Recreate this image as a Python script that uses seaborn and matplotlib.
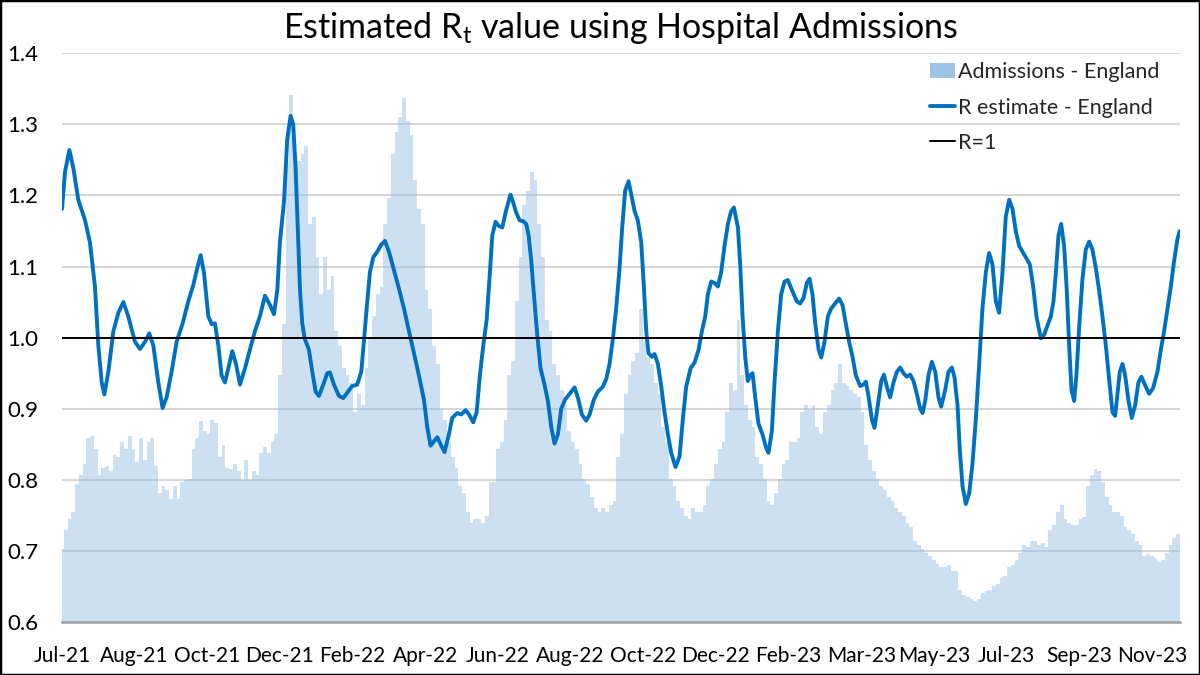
import numpy as np
import pandas as pd
import matplotlib
matplotlib.use("Agg")
import matplotlib.pyplot as plt
from matplotlib.patches import Patch, Rectangle
from matplotlib.lines import Line2D
import seaborn as sns

# ---------------- data ----------------
start_date = "2021-07-01"

# R estimate (days since 1 Jul 2021, value)
r_days = [0, 2.4, 5.9, 9.1, 13.0, 18.4, 22.3, 26.3, 29.0, 31.7, 33.8, 37.0, 41.0, 45.0, 49.0, 52.9,
          58.3, 62.3, 66.2, 69.7, 72.9, 76.9, 80.3, 83.5, 87.5, 91.5, 96.3, 100.8, 104.8, 108.0, 110.7,
          113.3, 116.8, 119.5, 122.1, 124.8, 127.4, 130.1, 132.8, 135.9, 138.9, 142.1, 146.1, 150.0,
          154.0, 158.0, 162.0, 166.0, 169.2, 171.9, 174.0,
          177.2, 179.8, 182.5, 184.6, 186.5, 188.4, 190.0, 191.8, 193.7, 197.1, 199.8, 202.5, 205.1,
          208.6, 211.8, 213.9, 217.1, 221.1, 224.5, 228.3, 231.7, 235.7, 238.9, 241.0, 243.2, 245.8,
          248.5, 251.7, 254.9, 257.8, 261.0, 265.0, 269.0, 273.0, 277.0, 281.0, 284.9, 288.9, 291.6,
          294.2, 296.9, 299.6, 302.8, 305.4, 308.9, 311.5, 315.5, 318.7, 322.2, 324.9, 328.3, 331.0,
          333.6, 336.3, 339.0, 341.6, 343.5, 346.1, 348.8, 351.5, 354.1, 357.6,
          358.1, 360.0, 362.6, 365.3, 368.0, 370.6, 372.5, 374.6, 376.7, 379.4, 382.0, 385.2, 387.9,
          390.6, 393.2, 395.9, 398.5, 401.7, 405.2, 409.2, 411.8, 415.0, 418.5, 421.2, 424.6, 427.8,
          431.8, 434.5, 437.1, 439.8, 442.4, 445.1, 447.2, 449.6, 452.3, 455.0, 457.1, 459.7, 462.4,
          464.5, 466.4, 468.2, 470.9, 473.0, 475.7, 478.4, 481.0, 483.7, 486.3, 489.8, 493.0, 495.6,
          498.3, 501.8, 505.0, 508.2, 510.8, 513.5, 515.6, 518.3, 520.9, 523.6, 526.2, 528.9, 531.6,
          534.2, 536.4,
          539.6, 541.4, 543.3, 545.4, 547.5, 549.4, 551.3, 553.4, 556.0, 559.2, 561.9, 564.0, 566.7,
          568.8, 571.5, 574.1, 576.8, 579.5, 582.7, 586.6, 589.3, 592.0, 594.6, 596.8, 599.1, 601.3,
          604.0, 606.1, 608.7, 611.4, 614.0, 617.2, 620.4, 623.1, 625.7, 628.4, 631.1, 633.7, 637.2,
          639.9, 641.7, 643.8, 646.5, 648.6, 651.3, 654.0, 656.1, 658.5, 661.1, 663.8, 666.5, 669.1,
          671.8, 674.4, 677.1, 679.8, 682.4, 685.1, 687.0, 689.1, 691.7, 694.4, 697.1, 699.7, 701.8,
          705.0, 707.7, 710.4, 712.5,
          714.9, 716.7, 718.9, 721.5, 724.2, 726.8, 729.5, 732.2, 734.8, 737.5, 740.1, 742.8, 745.5,
          748.1, 750.8, 753.4, 756.1, 758.8, 761.4, 764.1, 766.8, 769.4, 772.6, 775.3, 777.9, 781.4,
          784.0, 786.7, 789.4, 791.5, 793.4, 795.5, 797.6, 800.0, 802.1, 804.0, 805.9, 808.0, 809.8,
          812.0, 814.6, 817.3, 820.0, 822.6, 825.3, 827.9, 830.6, 833.3, 835.9, 838.6, 840.7, 842.6,
          844.4, 846.6, 848.7, 851.4, 854.0, 856.7, 859.3, 861.7, 864.4, 867.9, 871.0, 874.5, 877.2,
          879.8, 882.5, 885.2, 887.8, 890.5, 892.3]
r_values = [1.181, 1.233, 1.264, 1.238, 1.194, 1.165, 1.134, 1.072, 0.989, 0.937, 0.920, 0.952, 1.009,
            1.035, 1.050, 1.030, 0.994, 0.984, 0.994, 1.006, 0.989, 0.937, 0.901, 0.916, 0.952, 0.994,
            1.020, 1.051, 1.074, 1.098, 1.116, 1.092, 1.030, 1.019, 1.020, 0.989, 0.947, 0.937, 0.957,
            0.981, 0.963, 0.934, 0.957, 0.983, 1.009, 1.030, 1.059, 1.046, 1.033, 1.067, 1.135,
            1.191, 1.279, 1.312, 1.300, 1.238, 1.144, 1.067, 1.020, 0.999, 0.983, 0.952, 0.924, 0.918,
            0.934, 0.950, 0.951, 0.934, 0.918, 0.915, 0.924, 0.932, 0.934, 0.952, 0.994, 1.041, 1.092,
            1.113, 1.121, 1.131, 1.136, 1.121, 1.095, 1.069, 1.041, 1.009, 0.978, 0.947, 0.913, 0.874,
            0.848, 0.854, 0.860, 0.848, 0.839, 0.864, 0.887, 0.894, 0.892, 0.898, 0.892, 0.881, 0.895,
            0.947, 0.989, 1.025, 1.092, 1.144, 1.163, 1.157, 1.155, 1.176, 1.199,
            1.201, 1.191, 1.176, 1.165, 1.164, 1.160, 1.144, 1.108, 1.061, 1.004, 0.957, 0.934, 0.911,
            0.874, 0.851, 0.864, 0.900, 0.913, 0.921, 0.930, 0.916, 0.892, 0.883, 0.892, 0.913, 0.924,
            0.931, 0.942, 0.963, 0.999, 1.041, 1.098, 1.155, 1.207, 1.220, 1.196, 1.178, 1.165, 1.134,
            1.072, 1.009, 0.978, 0.973, 0.977, 0.963, 0.931, 0.895, 0.864, 0.838, 0.818, 0.833, 0.885,
            0.931, 0.957, 0.965, 0.983, 1.009, 1.030, 1.061, 1.079, 1.077, 1.072, 1.092, 1.129, 1.160,
            1.178, 1.183,
            1.155, 1.103, 1.030, 0.973, 0.939, 0.947, 0.950, 0.916, 0.879, 0.864, 0.846, 0.838, 0.869,
            0.937, 1.009, 1.061, 1.079, 1.081, 1.067, 1.051, 1.048, 1.056, 1.077, 1.083, 1.061, 1.020,
            0.983, 0.972, 0.994, 1.030, 1.041, 1.048, 1.055, 1.046, 1.020, 0.994, 0.973, 0.947, 0.932,
            0.934, 0.938, 0.918, 0.885, 0.873, 0.905, 0.939, 0.948, 0.931, 0.916, 0.937, 0.952, 0.958,
            0.950, 0.945, 0.948, 0.939, 0.921, 0.900, 0.894, 0.911, 0.947, 0.966, 0.952, 0.916, 0.903,
            0.926, 0.952, 0.958, 0.944,
            0.905, 0.843, 0.791, 0.766, 0.781, 0.822, 0.885, 0.963, 1.041, 1.092, 1.119, 1.103, 1.051,
            1.035, 1.092, 1.170, 1.194, 1.181, 1.150, 1.129, 1.121, 1.113, 1.103, 1.072, 1.030, 0.999,
            1.004, 1.017, 1.030, 1.051, 1.092, 1.144, 1.160, 1.129, 1.067, 0.989, 0.926, 0.911, 0.947,
            1.015, 1.082, 1.124, 1.135, 1.124, 1.098, 1.067, 1.030, 0.989, 0.942, 0.895, 0.890, 0.921,
            0.952, 0.963, 0.947, 0.911, 0.887, 0.905, 0.937, 0.945, 0.934, 0.921, 0.929, 0.952, 0.983,
            1.009, 1.041, 1.072, 1.108, 1.139, 1.150]

# Hospital admissions, 3-day bins starting 1 Jul 2021 (secondary, hidden axis units)
admissions = [297, 372, 420, 447, 560, 597, 642, 747, 755, 702, 597, 627, 635, 612, 680, 672, 732, 702,
              755, 702, 650, 747, 657, 732, 747, 635, 522, 552, 537, 500, 552, 500, 567, 575, 582, 702,
              747, 815, 777, 762, 822, 807, 672, 717, 627, 620, 642, 612, 575, 657, 575, 612, 597, 687,
              710, 687, 732, 762, 1002, 1212, 1872, 2142, 1902, 1872, 1902, 1932, 1617, 1647, 1482,
              1332, 1482, 1347, 1407, 1182, 1122, 1032, 1002, 972, 852, 927, 882, 1032, 1152, 1242,
              1332, 1362, 1617, 1722, 1902, 1992, 2052, 2127, 2037, 1977, 1797, 1677, 1617, 1347, 1272,
              1122, 1047, 867, 822, 732, 672, 627, 552, 522, 447, 402, 417, 417, 402, 432, 567, 567,
              702, 732, 822, 1002, 1062, 1302, 1482, 1692, 1752, 1827, 1797, 1617, 1482, 1227, 1182,
              1047, 1002, 942, 882, 777, 732, 702, 642, 582, 560, 507, 462, 447, 462, 447, 477, 492,
              672, 762, 927, 1002, 1062, 1092, 1272, 1137, 1077, 1047, 972, 927, 792, 732, 582, 552,
              492, 462, 432, 417, 462, 447, 447, 477, 552, 582, 642, 702, 732, 852, 972, 942, 1227,
              1002, 882, 822, 792, 672, 642, 582, 492, 477, 522, 582, 642, 657, 732, 732, 747, 852,
              882, 867, 882, 792, 762, 852, 882, 942, 972, 1047, 972, 957, 942, 927, 912, 852, 717,
              657, 612, 582, 552, 537, 507, 492, 462, 447, 432, 402, 387, 327, 312, 297, 282, 267, 252,
              237, 222, 222, 230, 207, 207, 132, 110, 102, 95, 87, 95, 117, 125, 132, 147, 155, 177,
              185, 222, 230, 252, 282, 312, 305, 327, 327, 312, 320, 305, 372, 395, 447, 477, 417, 402,
              395, 395, 417, 425, 552, 597, 620, 612, 567, 507, 477, 447, 447, 432, 387, 372, 357, 327,
              312, 267, 275, 267, 260, 245, 252, 282, 312, 342, 357]

tick_labels = ["Jul-21", "Aug-21", "Oct-21", "Dec-21", "Feb-22", "Apr-22", "Jun-22", "Aug-22",
               "Oct-22", "Dec-22", "Feb-23", "Mar-23", "May-23", "Jul-23", "Sep-23", "Nov-23"]
y_ticks = [0.6, 0.7, 0.8, 0.9, 1.0, 1.1, 1.2, 1.3, 1.4]
legend_labels = ["Admissions - England", "R estimate - England", "R=1"]

# ---------------- derived tables ----------------
t0 = pd.Timestamp(start_date)
adm_dates = pd.date_range(start_date, periods=len(admissions), freq="3D")
adm_df = pd.DataFrame({"day": np.asarray((adm_dates - t0).days, dtype=float),
                       "admissions": np.asarray(admissions, dtype=float)})
r_df = pd.DataFrame({"day": r_days, "R": r_values})
tick_dates = pd.date_range(start_date, periods=len(tick_labels), freq="58D")
tick_days = np.asarray((tick_dates - t0).days)

# ---------------- style ----------------
sns.set_theme(style="white")
plt.rcParams["font.family"] = ["Lato", "DejaVu Sans"]
plt.rcParams["mathtext.fontset"] = "custom"
plt.rcParams["mathtext.rm"] = "Lato"

BAR = "#9DC3E6"
LINE = "#0070C0"
GRID = "#D0D0D0"

fig = plt.figure(figsize=(12, 6.75), dpi=100)
ax = fig.add_axes([62 / 1200, 1 - 622 / 675, (1180 - 62) / 1200, (622 - 53.3) / 675])
ax2 = ax.twinx()
ax.set_zorder(ax2.get_zorder() + 1)
ax.patch.set_visible(False)

# bars on hidden secondary axis
first_day = adm_df["day"].iloc[0]
last_day = adm_df["day"].iloc[-1]
sns.histplot(data=adm_df, x="day", weights="admissions", binwidth=3,
             binrange=(first_day - 1.5, last_day + 1.5), ax=ax2,
             color=BAR, alpha=0.5, linewidth=0, element="bars", fill=True)
adm_top = 2310
ax2.set_ylim(0, adm_top)
ax2.set_yticks(np.linspace(0, adm_top, len(y_ticks)))
ax2.set_axisbelow(True)
ax2.yaxis.grid(True, color=GRID, linewidth=1.2)
ax2.xaxis.grid(False)
ax2.tick_params(right=False, labelright=False, left=False)
ax2.set_ylabel("")
for s in ax2.spines.values():
    s.set_visible(False)

# R line and R=1
sns.lineplot(data=r_df, x="day", y="R", ax=ax, color=LINE, linewidth=2.8,
             solid_joinstyle="round", solid_capstyle="round")
ax.axhline(1.0, color="black", linewidth=1.4, zorder=3)

ax.set_xlim(0, 892.5)
ax.set_ylim(0.6, 1.4)
ax.set_yticks(y_ticks)
ax.set_yticklabels([f"{v:.1f}" for v in y_ticks])
ax.set_xticks(tick_days)
ax.set_xticklabels(tick_labels)
ax.tick_params(axis="y", length=0, pad=17, labelsize=16, labelcolor="black")
ax.tick_params(axis="x", length=0, pad=17, labelsize=15, labelcolor="black")
ax.set_xlabel("")
ax.set_ylabel("")
ax.grid(False)
for k, s in ax.spines.items():
    s.set_visible(k == "bottom")
ax.spines["bottom"].set_color("#A0A0A0")
ax.spines["bottom"].set_linewidth(1.8)

# legend
handles = [Patch(facecolor=BAR, edgecolor="none"),
           Line2D([0], [0], color=LINE, linewidth=2.8),
           Line2D([0], [0], color="black", linewidth=1.4)]
fig.legend(handles, legend_labels, loc="upper right", bbox_to_anchor=(1159 / 1200, 1 - 62 / 675),
           frameon=False, fontsize=15.5, handlelength=1.15, handletextpad=0.12, labelspacing=0.72,
           borderpad=0, borderaxespad=0)

# title
fig.text((62 + 1180) / 2 / 1200, 1 - 28 / 675,
         r"Estimated $\mathregular{R_t}$ value using Hospital Admissions",
         ha="center", va="center", fontsize=24.5, color="black")

# chart border
fig.patches.append(Rectangle((0, 0), 1, 1, transform=fig.transFigure, fill=False,
                             edgecolor="black", linewidth=2.5))

fig.savefig("out.png", dpi=100)
